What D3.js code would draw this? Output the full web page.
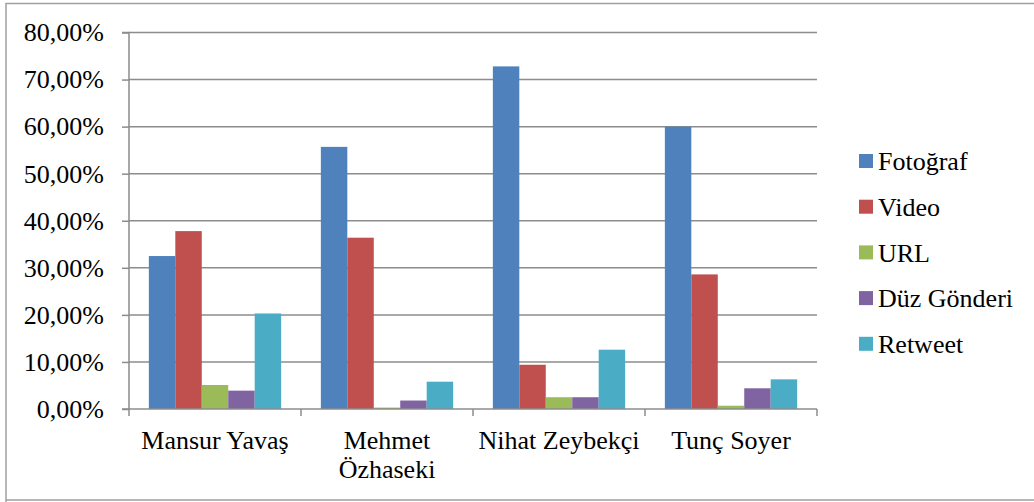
<!DOCTYPE html>
<html>
<head>
<meta charset="utf-8">
<script src="https://cdn.jsdelivr.net/npm/d3@7"></script>
<style>
  html, body { margin: 0; padding: 0; background: #fff; }
  svg { display: block; }
  svg text { font-family: 'Liberation Serif', 'Times New Roman', serif !important; }
</style>
</head>
<body>
<svg id="chart" width="1034" height="502"></svg>
<script>
// Candidates (x-axis categories)
const categories = ["Mansur Yavaş", "Mehmet Özhaseki", "Nihat Zeybekçi", "Tunç Soyer"];

// Share of each post type per candidate (%)
const seriesNames = ["Fotoğraf", "Video", "URL", "Düz Gönderi", "Retweet"];
const fotograf   = [32.5, 55.7, 72.8, 60.0];
const video      = [37.8, 36.4, 9.4, 28.6];
const url        = [5.1, 0.3, 2.5, 0.7];
const duzGonderi = [3.9, 1.8, 2.5, 4.4];
const retweet    = [20.3, 5.8, 12.6, 6.3];
const seriesValues = [fotograf, video, url, duzGonderi, retweet];
const seriesColors = ["#4F81BD", "#C0504D", "#9BBB59", "#8064A2", "#4BACC6"];

// Y-axis ticks (%)
const yTicks = [0, 10, 20, 30, 40, 50, 60, 70, 80];

const FONT = "'Liberation Serif', 'Times New Roman', serif";
const svg = d3.select("#chart");
const axisColor = "#8c8c8c";

// Outer frame
svg.append("path")
  .attr("d", "M6,503 L6,3.5 L1040,3.5 M6,500 L1040,500")
  .attr("fill", "none")
  .attr("stroke", "#a0a0a0")
  .attr("stroke-width", 1.5);

const plot = { left: 129, right: 817, top: 32.5, bottom: 409 };

const x0 = d3.scaleBand().domain(categories).range([plot.left, plot.right]).padding(0);
const x1 = d3.scaleBand().domain(seriesNames).range([0, x0.bandwidth()])
  .paddingInner(0).paddingOuter(0.75);
const y = d3.scaleLinear().domain([0, 80]).range([plot.bottom, plot.top]);

// Horizontal gridlines
svg.append("g").selectAll("line").data(yTicks.filter(d => d > 0)).join("line")
  .attr("x1", plot.left).attr("x2", plot.right)
  .attr("y1", d => y(d)).attr("y2", d => y(d))
  .attr("stroke", axisColor).attr("stroke-width", 1.5);

// Bars
const groups = svg.append("g").selectAll("g").data(seriesNames).join("g")
  .attr("fill", (d, i) => seriesColors[i]);
groups.selectAll("rect")
  .data((name, si) => categories.map((c, ci) => ({ c, name, v: seriesValues[si][ci] })))
  .join("rect")
  .attr("x", d => x0(d.c) + x1(d.name))
  .attr("width", x1.bandwidth())
  .attr("y", d => y(d.v))
  .attr("height", d => y(0) - y(d.v));

// Y axis
const yAxis = d3.axisLeft(y).tickValues(yTicks).tickSize(7).tickPadding(18)
  .tickFormat(d => d.toFixed(2).replace(".", ",") + "%");
const gy = svg.append("g").attr("transform", `translate(${plot.left},0)`).call(yAxis)
  .attr("font-family", FONT).attr("font-size", 26);
gy.select(".domain").attr("stroke", axisColor).attr("stroke-width", 1.5)
  .attr("d", `M-7,${plot.top}H0V${plot.bottom}`);
gy.selectAll(".tick line").attr("stroke", axisColor).attr("stroke-width", 1.5);
gy.selectAll(".tick text")
  .attr("fill", "#000")
  .attr("font-family", FONT)
  .attr("font-size", 26);

// X axis line and category ticks
svg.append("line")
  .attr("x1", plot.left - 7).attr("x2", plot.right)
  .attr("y1", plot.bottom).attr("y2", plot.bottom)
  .attr("stroke", axisColor).attr("stroke-width", 1.5);
const bounds = categories.map(c => x0(c)).concat([plot.right]);
svg.append("g").selectAll("line").data(bounds).join("line")
  .attr("x1", d => d).attr("x2", d => d)
  .attr("y1", plot.bottom).attr("y2", plot.bottom + 7)
  .attr("stroke", axisColor).attr("stroke-width", 1.5);

// Category labels, wrapped to the band width
const labels = svg.append("g").selectAll("text").data(categories).join("text")
  .attr("x", d => x0(d) + x0.bandwidth() / 2)
  .attr("y", 449)
  .attr("text-anchor", "middle")
  .attr("font-family", FONT)
  .attr("font-size", 26)
  .attr("fill", "#000");
labels.each(function (d) {
  const el = d3.select(this);
  const words = d.split(" ");
  let line = [];
  let tspan = el.append("tspan").attr("x", el.attr("x")).attr("dy", 0);
  words.forEach(w => {
    line.push(w);
    tspan.text(line.join(" "));
    if (tspan.node().getComputedTextLength() > x0.bandwidth() - 2 && line.length > 1) {
      line.pop();
      tspan.text(line.join(" "));
      line = [w];
      tspan = el.append("tspan").attr("x", el.attr("x")).attr("dy", 29).text(w);
    }
  });
});

// Legend
const legend = svg.append("g").selectAll("g").data(seriesNames).join("g")
  .attr("transform", (d, i) => `translate(859, ${161 + i * 45.7})`);
legend.append("rect")
  .attr("x", 0).attr("y", -7).attr("width", 14).attr("height", 14)
  .attr("fill", (d, i) => seriesColors[i]);
legend.append("text")
  .attr("x", 19).attr("y", 0).attr("dy", "0.35em")
  .attr("font-family", FONT)
  .attr("font-size", 26)
  .attr("fill", "#000")
  .text(d => d);
</script>
</body>
</html>
